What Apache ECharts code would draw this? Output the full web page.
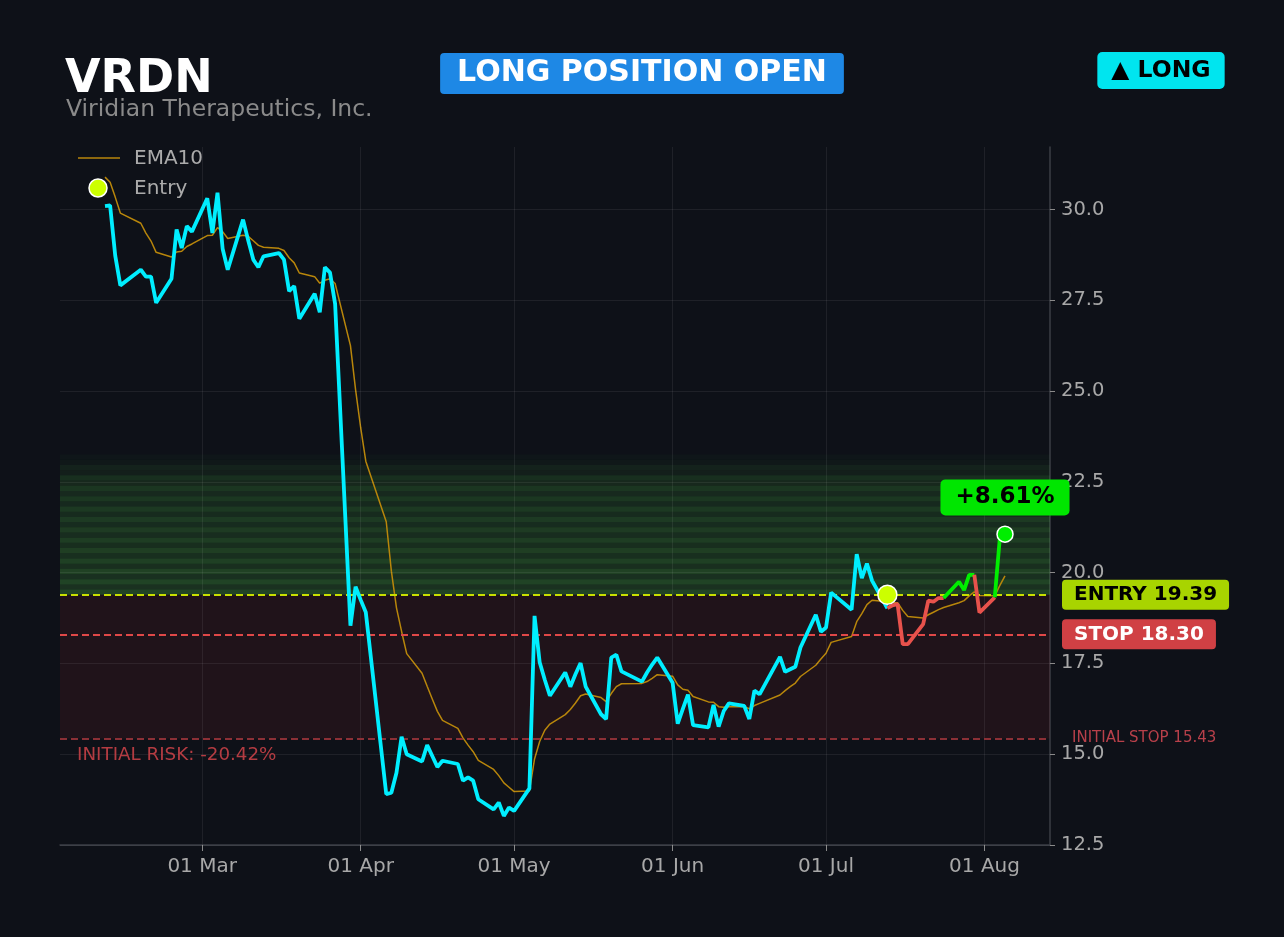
<!DOCTYPE html>
<html>
<head>
<meta charset="utf-8">
<script src="https://cdn.jsdelivr.net/npm/echarts@6.0.0/dist/echarts.min.js"></script>
<style>
	html, body { margin: 0; padding: 0; background: #0e1118; }
	#chart { width: 1284px; height: 937px; }
</style>
</head>
<body>
<div id="chart"></div>
<script>
// daily closes, 2026 trading days
const dates = [
	'2026-02-10', '2026-02-11', '2026-02-12', '2026-02-13', '2026-02-17', '2026-02-18', '2026-02-19', '2026-02-20',
	'2026-02-23', '2026-02-24', '2026-02-25', '2026-02-26', '2026-02-27',
	'2026-03-02', '2026-03-03', '2026-03-04', '2026-03-05', '2026-03-06',
	'2026-03-09', '2026-03-10', '2026-03-11', '2026-03-12', '2026-03-13',
	'2026-03-16', '2026-03-17', '2026-03-18', '2026-03-19', '2026-03-20',
	'2026-03-23', '2026-03-24', '2026-03-25', '2026-03-26', '2026-03-27',
	'2026-03-30', '2026-03-31', '2026-04-01', '2026-04-02',
	'2026-04-06', '2026-04-07', '2026-04-08', '2026-04-09', '2026-04-10',
	'2026-04-13', '2026-04-14', '2026-04-15', '2026-04-16', '2026-04-17',
	'2026-04-20', '2026-04-21', '2026-04-22', '2026-04-23', '2026-04-24',
	'2026-04-27', '2026-04-28', '2026-04-29', '2026-04-30', '2026-05-01',
	'2026-05-04', '2026-05-05', '2026-05-06', '2026-05-07', '2026-05-08',
	'2026-05-11', '2026-05-12', '2026-05-13', '2026-05-14', '2026-05-15',
	'2026-05-18', '2026-05-19', '2026-05-20', '2026-05-21', '2026-05-22',
	'2026-05-26', '2026-05-27', '2026-05-28', '2026-05-29',
	'2026-06-01', '2026-06-02', '2026-06-03', '2026-06-04', '2026-06-05',
	'2026-06-08', '2026-06-09', '2026-06-10', '2026-06-11', '2026-06-12',
	'2026-06-15', '2026-06-16', '2026-06-17', '2026-06-18',
	'2026-06-22', '2026-06-23', '2026-06-24', '2026-06-25', '2026-06-26',
	'2026-06-29', '2026-06-30', '2026-07-01', '2026-07-02',
	'2026-07-06', '2026-07-07', '2026-07-08', '2026-07-09', '2026-07-10',
	'2026-07-13', '2026-07-14', '2026-07-15', '2026-07-16', '2026-07-17',
	'2026-07-20', '2026-07-21', '2026-07-22', '2026-07-23', '2026-07-24',
	'2026-07-27', '2026-07-28', '2026-07-29', '2026-07-30', '2026-07-31',
	'2026-08-03', '2026-08-04', '2026-08-05'
];
const closes = [
	30.09, 30.11, 28.73, 27.91, 28.34, 28.15, 28.15, 27.43,
	28.09, 29.45, 28.94, 29.54, 29.39,
	30.31, 29.35, 30.46, 28.92, 28.34,
	29.72, 29.15, 28.62, 28.41, 28.71,
	28.80, 28.62, 27.75, 27.89, 26.99,
	27.68, 27.17, 28.41, 28.26, 27.40,
	18.54, 19.61, 19.25, 18.91,
	13.90, 13.94, 14.49, 15.48, 15.00,
	14.80, 15.25, 14.95, 14.65, 14.82,
	14.73, 14.27, 14.36, 14.27, 13.76,
	13.48, 13.67, 13.30, 13.53, 13.44,
	14.06, 18.81, 17.53, 17.05, 16.61,
	17.25, 16.86, 17.20, 17.51, 16.86,
	16.10, 15.97, 17.66, 17.74, 17.28,
	17.00, 17.25, 17.47, 17.66,
	16.97, 15.84, 16.25, 16.64, 15.80,
	15.74, 16.36, 15.76, 16.19, 16.40,
	16.33, 15.97, 16.75, 16.65,
	17.68, 17.27, 17.34, 17.41, 17.94,
	18.84, 18.37, 18.49, 19.45,
	18.98, 20.51, 19.85, 20.25, 19.78,
	19.02, 19.10, 19.13, 18.03, 18.03,
	18.58, 19.23, 19.20, 19.30, 19.30,
	19.75, 19.52, 19.94, 19.94, 18.90,
	19.32, 20.97, 21.06
];
const ema10 = [
	30.89, 30.75, 30.34, 29.90, 29.62, 29.35, 29.13, 28.82,
	28.69, 28.83, 28.85, 28.98, 29.05,
	29.28, 29.29, 29.50, 29.39, 29.20,
	29.29, 29.26, 29.14, 29.01, 28.96,
	28.93, 28.87, 28.67, 28.53, 28.25,
	28.15, 27.97, 28.05, 28.09, 27.96,
	26.25, 25.04, 23.99, 23.07,
	21.40, 20.04, 19.03, 18.38, 17.77,
	17.23, 16.87, 16.52, 16.18, 15.93,
	15.71, 15.45, 15.25, 15.07, 14.83,
	14.58, 14.41, 14.21, 14.09, 13.97,
	13.99, 14.87, 15.35, 15.66, 15.83,
	16.09, 16.23, 16.41, 16.61, 16.66,
	16.56, 16.45, 16.67, 16.86, 16.94,
	16.95, 17.00, 17.09, 17.19,
	17.15, 16.91, 16.79, 16.76, 16.59,
	16.44, 16.43, 16.31, 16.29, 16.31,
	16.31, 16.25, 16.34, 16.40,
	16.63, 16.75, 16.86, 16.96, 17.14,
	17.45, 17.62, 17.78, 18.08,
	18.24, 18.65, 18.87, 19.12, 19.24,
	19.20, 19.18, 19.17, 18.96, 18.79,
	18.75, 18.84, 18.91, 18.98, 19.04,
	19.17, 19.23, 19.36, 19.47, 19.37,
	19.36, 19.65, 19.91
];

const ticker = 'VRDN';
const companyName = 'Viridian Therapeutics, Inc.';
const entryDate = '2026-07-13';
const entryPrice = 19.39;
const stopPrice = 18.30;
const initialStop = 15.43;

const monthTicks = ['2026-03-01', '2026-04-01', '2026-05-01', '2026-06-01', '2026-07-01', '2026-08-01'];
const monthLabels = ['01 Mar', '01 Apr', '01 May', '01 Jun', '01 Jul', '01 Aug'];
const priceTicks = [12.5, 15, 17.5, 20, 22.5, 25, 27.5, 30];

const FONT = 'DejaVu Sans';
const DAY = 24 * 3600 * 1000;

function ts(s) {
	let [y, m, d] = s.split('-').map(Number);
	return Date.UTC(y, m - 1, d);
}

let chart = echarts.init(document.getElementById('chart'), null, { renderer: 'canvas' });

let pts = dates.map((d, i) => [ts(d), closes[i]]);
let emaPts = dates.map((d, i) => [ts(d), ema10[i]]);
let entryIdx = dates.indexOf(entryDate);
let lastIdx = dates.length - 1;
let monthTs = monthTicks.map(ts);

// after entry every step is green when it closes above entry, red otherwise
let runs = [];
for (let i = entryIdx; i < lastIdx; i++) {
	let up = closes[i + 1] > entryPrice;
	let prev = runs[runs.length - 1];
	if (prev && prev.up === up) {
		prev.to = i + 1;
	} else {
		runs.push({ up: up, from: i, to: i + 1 });
	}
}
let runSeries = runs.map((r) => ({
	type: 'line',
	data: pts.slice(r.from, r.to + 1),
	showSymbol: false,
	silent: true,
	z: 6,
	lineStyle: { color: r.up ? '#00ee00' : '#e8524c', width: 3.8 },
}));

let pnl = (closes[lastIdx] - entryPrice) / entryPrice * 100;
let initRisk = (initialStop - entryPrice) / entryPrice * 100;

// striped green glow above the entry level, fading out at the top
let glowTop = 23.25;
let glowSteps = 27;
let glowStep = (glowTop - entryPrice) / glowSteps;
let glowBands = [];
for (let k = 0; k < glowSteps; k++) {
	let fade = Math.min(1, (glowSteps - k) / 6) * (1.2 - 0.45 * k / glowSteps);
	let a = (k % 2 === 0 ? 0.25 : 0.16) * fade;
	glowBands.push([
		{ yAxis: entryPrice + k * glowStep, itemStyle: { color: 'rgba(78,189,68,' + a.toFixed(3) + ')' } },
		{ yAxis: entryPrice + (k + 1) * glowStep },
	]);
}

let gridLines = priceTicks.map((v) => ({ yAxis: v })).concat(monthTs.map((m) => ({ xAxis: m })));

let option = {
	backgroundColor: '#0e1118',
	animation: false,
	textStyle: { fontFamily: FONT },
	grid: { left: 60, right: 234, top: 147, bottom: 92 },
	xAxis: {
		type: 'value',
		min: ts(dates[0]) - 8.8 * DAY,
		max: ts(dates[lastIdx]) + 8.8 * DAY,
		splitLine: { show: false },
		axisLine: { show: true, onZero: false, lineStyle: { color: '#3b3e45', width: 1.5 } },
		axisTick: { show: true, length: 6, customValues: monthTs, lineStyle: { color: '#8a8a8a' } },
		axisLabel: {
			customValues: monthTs,
			formatter: (v) => {
				let i = monthTs.indexOf(v);
				return i >= 0 ? monthLabels[i] : '';
			},
			color: '#a8a8a8',
			fontSize: 20,
			fontFamily: FONT,
			margin: 12,
		},
	},
	yAxis: {
		type: 'value',
		position: 'right',
		min: 12.5,
		max: 31.72,
		interval: 2.5,
		splitLine: { show: false },
		axisLine: { show: true, lineStyle: { color: '#3b3e45', width: 1.5 } },
		axisTick: { show: true, length: 5, customValues: priceTicks, lineStyle: { color: '#8a8a8a' } },
		axisLabel: {
			customValues: priceTicks,
			formatter: (v) => v.toFixed(1),
			color: '#a8a8a8',
			fontSize: 19.5,
			fontFamily: FONT,
			margin: 11,
		},
	},
	graphic: [
		{
			type: 'text',
			x: 65,
			y: 80,
			style: { text: ticker, fill: '#ffffff', font: 'bold 46px "DejaVu Sans"', verticalAlign: 'middle' },
		},
		{
			type: 'text',
			x: 66,
			y: 110,
			style: { text: companyName, fill: '#8a8a8a', font: '23.5px "DejaVu Sans"', verticalAlign: 'middle' },
		},
		{
			type: 'text',
			x: 642,
			y: 73.5,
			style: {
				text: 'LONG POSITION OPEN',
				fill: '#ffffff',
				font: 'bold 30px "DejaVu Sans"',
				align: 'center',
				verticalAlign: 'middle',
				lineHeight: 29,
				backgroundColor: '#1e88e5',
				padding: [6, 17],
				borderRadius: 4,
			},
		},
		{
			type: 'text',
			x: 1161,
			y: 70.5,
			style: {
				text: '▲ LONG',
				fill: '#000000',
				font: 'bold 23.5px "DejaVu Sans"',
				align: 'center',
				verticalAlign: 'middle',
				lineHeight: 25,
				backgroundColor: '#00e5ef',
				padding: [6, 14],
				borderRadius: 5,
			},
		},
		// legend
		{
			type: 'line',
			shape: { x1: 78, y1: 158, x2: 120, y2: 158 },
			style: { stroke: '#b8860b', lineWidth: 1.5 },
		},
		{
			type: 'text',
			x: 134,
			y: 159,
			style: { text: 'EMA10', fill: '#ababab', font: '20px "DejaVu Sans"', verticalAlign: 'middle' },
		},
		{
			type: 'circle',
			shape: { cx: 98, cy: 188, r: 9 },
			style: { fill: '#ccff00', stroke: '#ffffff', lineWidth: 1.5 },
		},
		{
			type: 'text',
			x: 134,
			y: 189,
			style: { text: 'Entry', fill: '#ababab', font: '20px "DejaVu Sans"', verticalAlign: 'middle' },
		},
	],
	series: [
		{
			// bands and grid
			type: 'line',
			data: [],
			silent: true,
			z: 1,
			markArea: {
				silent: true,
				data: [
					[{ yAxis: initialStop, itemStyle: { color: 'rgba(200,40,50,0.1)' } }, { yAxis: entryPrice }],
				].concat(glowBands),
			},
			markLine: {
				silent: true,
				symbol: ['none', 'none'],
				label: { show: false },
				lineStyle: { color: 'rgba(255,255,255,0.07)', type: 'solid', width: 1 },
				data: gridLines,
			},
		},
		{
			name: 'EMA10',
			type: 'line',
			data: emaPts,
			showSymbol: false,
			silent: true,
			z: 3,
			lineStyle: { color: '#b8860b', width: 1.5 },
		},
		{
			// entry / stop levels
			type: 'line',
			data: [],
			silent: true,
			z: 4,
			markLine: {
				silent: true,
				symbol: ['none', 'none'],
				data: [
					{
						yAxis: entryPrice,
						lineStyle: { color: '#c8e000', type: [7, 4], width: 2.2 },
						label: {
							show: true,
							position: 'end',
							distance: 12,
							formatter: 'ENTRY ' + entryPrice.toFixed(2),
							color: '#000000',
							fontWeight: 'bold',
							fontSize: 20,
							fontFamily: FONT,
							lineHeight: 20,
							backgroundColor: '#a8d400',
							padding: [5, 12],
							borderRadius: 4,
						},
					},
					{
						yAxis: stopPrice,
						lineStyle: { color: '#e04848', type: [7, 4], width: 2.2 },
						label: {
							show: true,
							position: 'end',
							distance: 12,
							formatter: 'STOP ' + stopPrice.toFixed(2),
							color: '#ffffff',
							fontWeight: 'bold',
							fontSize: 20,
							fontFamily: FONT,
							lineHeight: 20,
							backgroundColor: '#d04044',
							padding: [5, 12],
							borderRadius: 4,
						},
					},
					{
						yAxis: initialStop,
						lineStyle: { color: '#8c3036', type: [7, 4], width: 2.2 },
						label: {
							show: true,
							position: 'end',
							distance: 22,
							formatter: 'INITIAL STOP ' + initialStop.toFixed(2),
							color: '#b8404a',
							fontSize: 15,
							fontFamily: FONT,
						},
					},
					{
						yAxis: initialStop,
						lineStyle: { color: 'rgba(0,0,0,0)', width: 0.1 },
						label: {
							show: true,
							position: 'insideStartBottom',
							distance: 8,
							padding: [0, 0, 0, 9],
							formatter: 'INITIAL RISK: ' + initRisk.toFixed(2) + '%',
							color: '#b43c42',
							fontSize: 18.3,
							fontFamily: FONT,
						},
					},
				],
			},
		},
		{
			name: 'Price',
			type: 'line',
			data: pts.slice(0, entryIdx + 1),
			showSymbol: false,
			silent: true,
			z: 6,
			lineStyle: { color: '#00eeff', width: 3.8 },
		},
		...runSeries,
		{
			name: 'Entry',
			type: 'scatter',
			data: [[ts(entryDate), entryPrice]],
			symbolSize: 19,
			z: 8,
			itemStyle: { color: '#ccff00', borderColor: '#ffffff', borderWidth: 1.5, opacity: 1 },
		},
		{
			type: 'scatter',
			data: [pts[lastIdx]],
			symbolSize: 16,
			z: 9,
			itemStyle: { color: '#00ee00', borderColor: '#ffffff', borderWidth: 1.5, opacity: 1 },
			label: {
				show: true,
				position: 'top',
				distance: 10,
				formatter: (pnl >= 0 ? '+' : '') + pnl.toFixed(2) + '%',
				color: '#000000',
				fontWeight: 'bold',
				fontSize: 23,
				fontFamily: FONT,
				lineHeight: 26,
				backgroundColor: '#00e600',
				padding: [5, 15],
				borderRadius: 5,
			},
		},
	],
};

chart.setOption(option);
</script>
</body>
</html>
